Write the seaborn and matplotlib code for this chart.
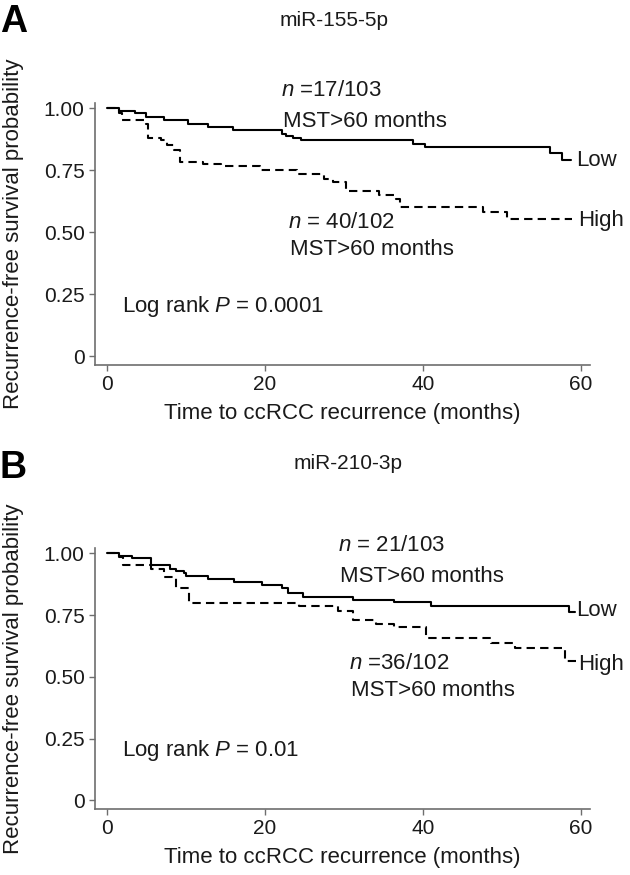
import matplotlib
matplotlib.use("Agg")
import matplotlib.pyplot as plt
import seaborn as sns
import pandas as pd

# Kaplan-Meier step points (time in months, survival)
a_low_time = [0, 1.5, 3.5, 5.0, 7.2, 10.2, 12.8, 15.9, 22.2, 22.7, 23.6, 24.6, 38.8, 40.3, 56.1, 57.6, 58.8]
a_low_surv = [1.0, 0.988, 0.98, 0.965, 0.952, 0.935, 0.924, 0.911, 0.895, 0.887, 0.878, 0.87, 0.857, 0.843, 0.819, 0.79, 0.79]
a_high_time = [0, 1.5, 1.9, 5.0, 5.2, 6.9, 7.6, 8.5, 9.3, 12.2, 14.4, 19.4, 24.0, 27.5, 28.6, 30.3, 34.5, 36.6, 37.1,
               47.6, 50.6, 58.9]
a_high_surv = [1.0, 0.982, 0.951, 0.935, 0.88, 0.87, 0.853, 0.833, 0.785, 0.776, 0.765, 0.751, 0.735, 0.715, 0.701,
               0.667, 0.65, 0.633, 0.602, 0.581, 0.554, 0.554]

b_low_time = [0, 1.5, 3.2, 5.6, 8.0, 8.7, 9.8, 10.0, 12.8, 16.1, 19.6, 22.2, 22.9, 24.8, 31.2, 36.4, 41.0, 58.5, 59.3]
b_low_surv = [1.0, 0.99, 0.982, 0.953, 0.936, 0.928, 0.919, 0.909, 0.896, 0.885, 0.872, 0.861, 0.838, 0.824, 0.811,
              0.801, 0.788, 0.764, 0.764]
b_high_time = [0, 1.5, 2.0, 5.6, 7.2, 8.7, 10.4, 24.3, 29.3, 31.2, 34.1, 36.4, 40.4, 48.6, 51.7, 58.0, 59.4]
b_high_surv = [1.0, 0.983, 0.953, 0.935, 0.905, 0.86, 0.80, 0.785, 0.765, 0.728, 0.712, 0.70, 0.655, 0.635, 0.617,
               0.565, 0.565]

x_ticks = [0, 20, 40, 60]
y_ticks = [0, 0.25, 0.50, 0.75, 1.00]
y_ticklabels = ["0", "0.25", "0.50", "0.75", "1.00"]

panels = [
    dict(letter="A", title="miR-155-5p",
         low=(a_low_time, a_low_surv), high=(a_high_time, a_high_surv),
         n_low="$n$ =17/103", n_high="$n$ = 40/102", p_text="Log rank $P$ = 0.0001",
         low_pos=(22.0, 1.07), high_pos=(22.9, 0.54), low_lbl=0.79, high_lbl=0.547),
    dict(letter="B", title="miR-210-3p",
         low=(b_low_time, b_low_surv), high=(b_high_time, b_high_surv),
         n_low="$n$ = 21/103", n_high="$n$ =36/102", p_text="Log rank $P$ = 0.01",
         low_pos=(29.2, 1.03), high_pos=(30.6, 0.554), low_lbl=0.77, high_lbl=0.55),
]

sns.set_theme(style="ticks")
plt.rcParams["font.family"] = ["Liberation Sans", "DejaVu Sans"]
plt.rcParams["mathtext.fontset"] = "custom"
plt.rcParams["mathtext.rm"] = "Liberation Sans"
plt.rcParams["mathtext.it"] = "Liberation Sans:italic"

txt = "#1a1a1a"
axis_col = "#6e6e6e"

fig = plt.figure(figsize=(6.3, 8.75), dpi=100)
axes_pos = [[0.151, 0.583, 0.786, 0.299], [0.151, 0.0754, 0.786, 0.298]]
title_xy = [(0.53, 0.977), (0.552, 0.470)]
letter_y = [0.975, 0.465]

for p, pos, (tx, ty), ly0 in zip(panels, axes_pos, title_xy, letter_y):
    ax = fig.add_axes(pos)
    df = pd.concat([
        pd.DataFrame({"time": p["low"][0], "surv": p["low"][1], "group": "Low"}),
        pd.DataFrame({"time": p["high"][0], "surv": p["high"][1], "group": "High"}),
    ])
    sns.lineplot(data=df, x="time", y="surv", style="group", units="group", estimator=None,
                 dashes={"Low": "", "High": (4, 2.5)}, color="black", linewidth=1.5,
                 drawstyle="steps-post", legend=False, ax=ax)

    ax.set_xlim(-1.5, 61.2)
    ax.set_ylim(-0.035, 1.02)
    ax.set_xticks(x_ticks)
    ax.set_yticks(y_ticks)
    ax.set_yticklabels(y_ticklabels)
    ax.tick_params(colors=axis_col, labelcolor=txt, labelsize=15, length=4, width=1)
    for s in ["top", "right"]:
        ax.spines[s].set_visible(False)
    for s in ["left", "bottom"]:
        ax.spines[s].set_color(axis_col)
        ax.spines[s].set_linewidth(1.2)

    ax.set_xlabel("Time to ccRCC recurrence (months)", fontsize=16, color=txt, labelpad=6)
    ax.set_ylabel("Recurrence-free survival probability", fontsize=16, color=txt)
    ax.yaxis.set_label_coords(-0.143, 0.5)

    lx, ly = p["low_pos"]
    hx, hy = p["high_pos"]
    ax.text(lx, ly, p["n_low"], fontsize=16, color=txt, va="center")
    ax.text(lx + 0.3, ly - 0.125, "MST>60 months", fontsize=16, color=txt, va="center")
    ax.text(hx, hy, p["n_high"], fontsize=16, color=txt, va="center")
    ax.text(hx + 0.3, hy - 0.11, "MST>60 months", fontsize=16, color=txt, va="center")
    ax.text(59.4, p["low_lbl"], "Low", fontsize=16, color=txt, va="center")
    ax.text(59.6, p["high_lbl"], "High", fontsize=16, color=txt, va="center")
    ax.text(1.9, 0.20, p["p_text"], fontsize=16, color=txt, va="center")

    fig.text(tx, ty, p["title"], fontsize=15, color=txt, ha="center", va="center")
    fig.text(0.0, ly0, p["letter"], fontsize=27, fontweight="bold", color="black", ha="left", va="center")

fig.savefig("out.png", dpi=100)
